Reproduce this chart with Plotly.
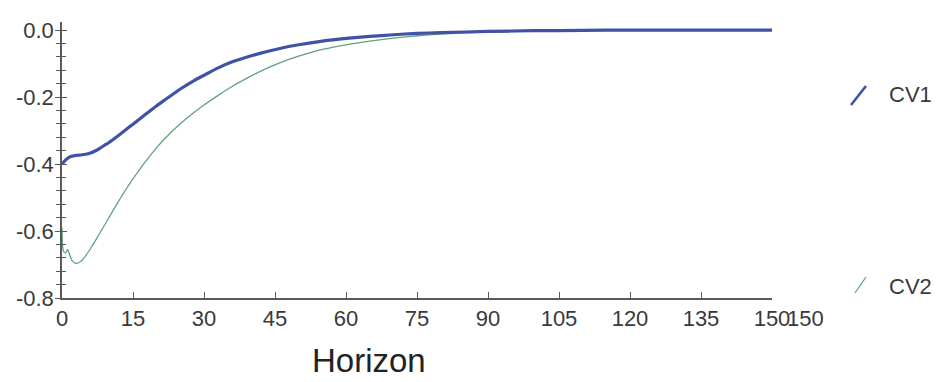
import plotly.graph_objects as go

# ---- data ----
cv1_x = [0, 1, 2, 3, 4, 5, 6, 7, 8, 9, 10, 12, 14, 16, 18, 20, 22, 25, 28, 30, 33, 36, 40, 42, 46,
         50, 55, 60, 65, 70, 75, 80, 90, 100, 110, 120, 130, 140, 150]
cv1_y = [-0.400, -0.385, -0.377, -0.374, -0.373, -0.371, -0.367, -0.361, -0.353, -0.344, -0.335,
         -0.314, -0.292, -0.270, -0.248, -0.226, -0.206, -0.176, -0.150, -0.135, -0.113, -0.095,
         -0.077, -0.069, -0.055, -0.044, -0.033, -0.025, -0.019, -0.014, -0.010, -0.008, -0.004,
         -0.002, -0.001, 0.0, 0.0, 0.0, 0.0]

cv2_x = [0, 0.3, 0.8, 1.2, 1.6, 2.2, 3, 4, 5, 6, 7, 8, 9, 10, 11, 12, 13, 14, 15, 16, 18, 20, 22,
         25, 28, 30, 33, 36, 40, 43, 46, 50, 55, 60, 65, 70, 75, 80, 90, 100, 110, 120, 130, 140, 150]
cv2_y = [-0.590, -0.660, -0.665, -0.655, -0.670, -0.690, -0.697, -0.690, -0.674, -0.653, -0.630,
         -0.606, -0.582, -0.558, -0.534, -0.510, -0.487, -0.465, -0.444, -0.424, -0.386, -0.351,
         -0.320, -0.280, -0.245, -0.224, -0.195, -0.168, -0.137, -0.116, -0.098, -0.078, -0.058,
         -0.044, -0.033, -0.024, -0.017, -0.012, -0.006, -0.003, -0.001, 0.0, 0.0, 0.0, 0.0]

series_names = ["CV1", "CV2"]
x_ticks = [0, 15, 30, 45, 60, 75, 90, 105, 120, 135, 150]
y_ticks = [-0.8, -0.6, -0.4, -0.2, 0.0]
y_tick_text = ["-0.8", "-0.6", "-0.4", "-0.2", "0.0"]
x_title = "Horizon"

BLUE = "#3f52a6"
GREEN = "#62a27a"
AXIS = "#5a5a5a"
TXT = "#3a3a3a"
FONT = "Liberation Sans, Arial, sans-serif"
TICKFONT = dict(family=FONT, size=22, color=TXT)

fig = go.Figure()
fig.add_trace(go.Scatter(x=cv2_x, y=cv2_y, mode="lines", name=series_names[1],
                         line=dict(color=GREEN, width=1.3, shape="spline", smoothing=0.6),
                         showlegend=False))
fig.add_trace(go.Scatter(x=cv1_x, y=cv1_y, mode="lines", name=series_names[0],
                         line=dict(color=BLUE, width=3.2, shape="spline", smoothing=0.6),
                         showlegend=False))
# invisible trace so the overlay axis (inner half of crossing ticks) is drawn
fig.add_trace(go.Scatter(x=cv1_x, y=cv1_y, yaxis="y2", mode="lines", opacity=0,
                         hoverinfo="skip", showlegend=False))

yr = [-0.8, 0.024]
fig.update_layout(
    width=940, height=382,
    margin=dict(l=62, r=168, t=22, b=84),
    paper_bgcolor="white", plot_bgcolor="white",
    xaxis=dict(range=[0, 150], tickvals=x_ticks, ticks="inside", ticklen=6, tickcolor=AXIS,
               showline=True, linecolor=AXIS, linewidth=1.5, showgrid=False, zeroline=False,
               tickfont=TICKFONT, ticklabelstandoff=0),
    yaxis=dict(range=yr, tickvals=y_ticks, ticktext=y_tick_text, ticks="outside", ticklen=5,
               tickcolor=AXIS, showline=True, linecolor=AXIS, linewidth=1.5, showgrid=False,
               zeroline=False, tickfont=TICKFONT, ticklabelstandoff=-3,
               minor=dict(dtick=0.04, ticks="outside", ticklen=4, tickcolor=AXIS)),
    yaxis2=dict(range=yr, overlaying="y", side="left", anchor="x", tickvals=y_ticks,
                showticklabels=False, ticks="inside", ticklen=5, tickcolor=AXIS,
                showline=False, showgrid=False, zeroline=False,
                minor=dict(dtick=0.04, ticks="inside", ticklen=4, tickcolor=AXIS)),
    showlegend=False,
)

def px2paper(px, py):
    return (px - 62) / 710, (298 - py) / 276

# legend-like decorations (slash marks + labels)
for (x0, y0, x1, y1), col, w, name, ty in [
    ((851, 105, 866, 86), BLUE, 2.6, series_names[0], 95),
    ((855, 293, 866, 277), GREEN, 1.3, series_names[1], 286),
]:
    a0 = px2paper(x0, y0)
    a1 = px2paper(x1, y1)
    fig.add_shape(type="line", xref="paper", yref="paper", x0=a0[0], y0=a0[1], x1=a1[0], y1=a1[1],
                  line=dict(color=col, width=w))
    tx, tyy = px2paper(887, ty)
    fig.add_annotation(text=name, xref="paper", yref="paper", x=tx, y=tyy, xanchor="left",
                       yanchor="middle", showarrow=False,
                       font=dict(family=FONT, size=22, color=TXT))

# axis title (placed as in the reference, left of centre)
hx, hy = px2paper(369, 360)
fig.add_annotation(text=x_title, xref="paper", yref="paper", x=hx, y=hy, xanchor="center",
                   yanchor="middle", showarrow=False,
                   font=dict(family=FONT, size=33, color="#222222"))

# duplicated end label seen in the reference
ex, ey = px2paper(805, 318)
fig.add_annotation(text=str(x_ticks[-1]), xref="paper", yref="paper", x=ex, y=ey, xanchor="center",
                   yanchor="middle", showarrow=False, font=TICKFONT)

fig.write_html("out.html")
